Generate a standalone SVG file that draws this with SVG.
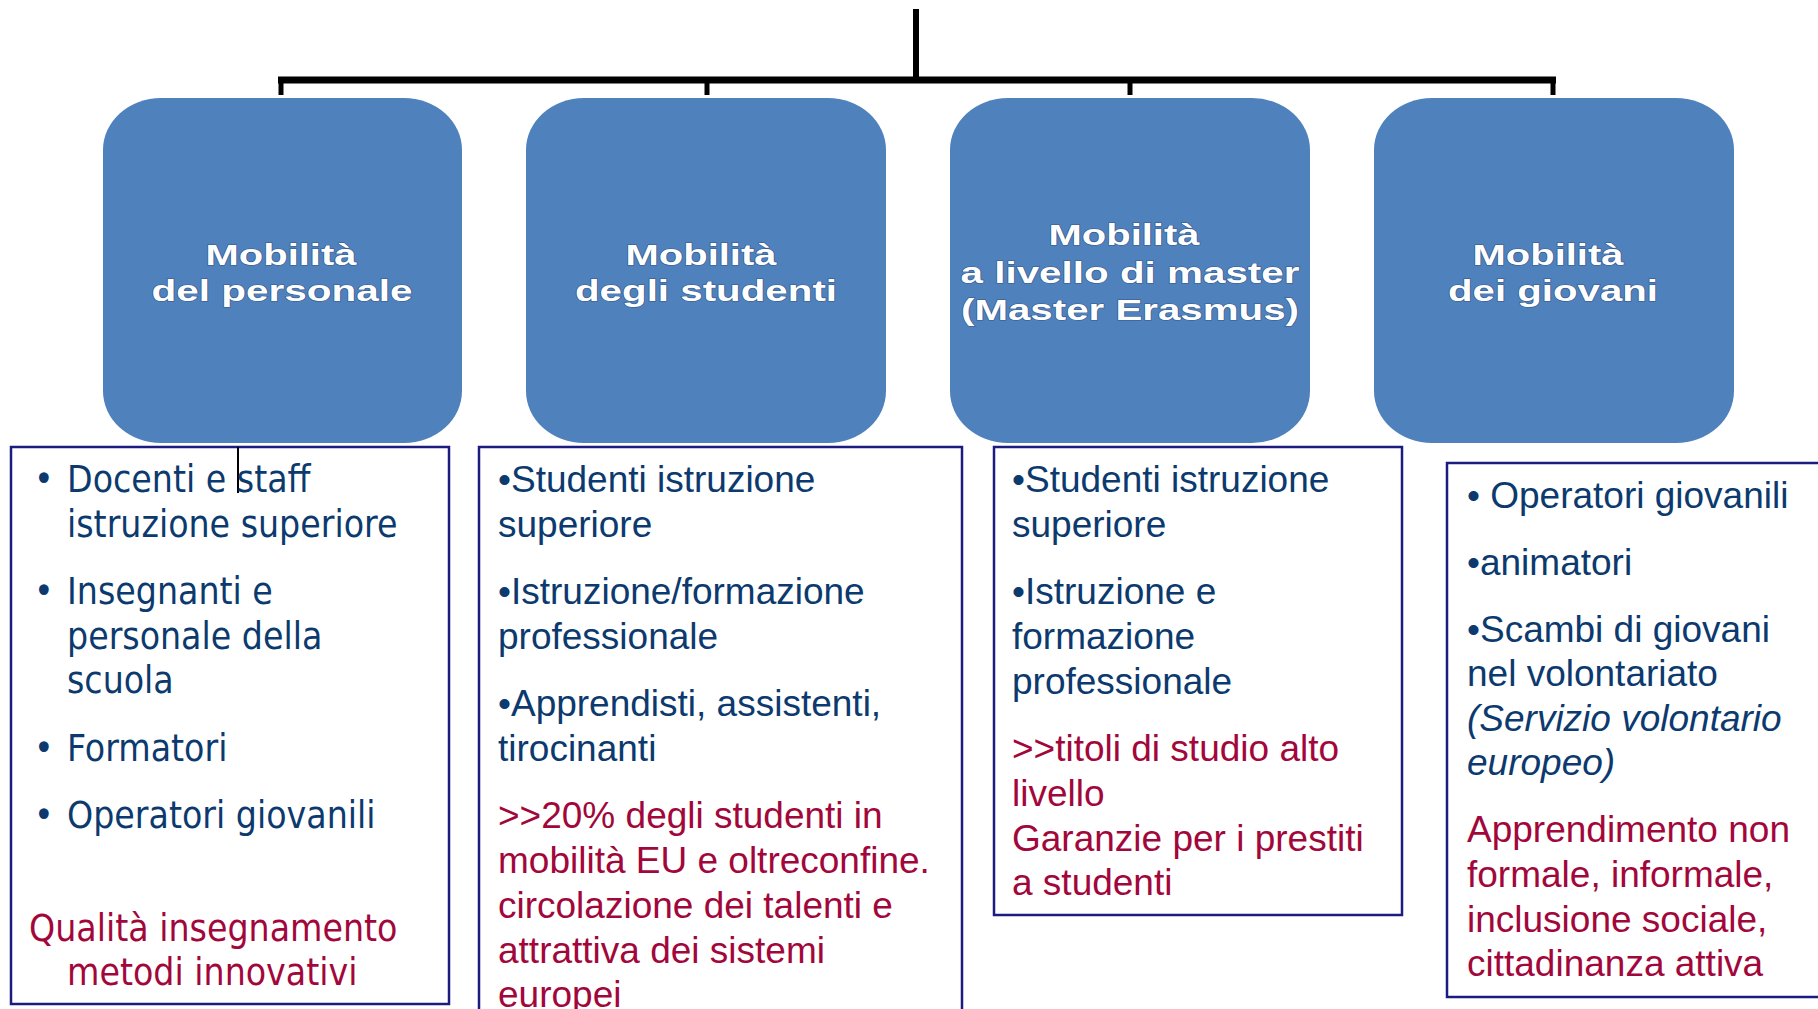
<svg xmlns="http://www.w3.org/2000/svg" width="1818" height="1009" viewBox="0 0 1818 1009">
<style>
.node rect.head{fill:#4F81BD;}
.title{font-family:"Liberation Sans",Arial,sans-serif;font-weight:bold;font-size:30px;fill:#ffffff;stroke:#34588a;stroke-width:1.2px;paint-order:stroke;text-anchor:middle;}
.frame{fill:#ffffff;stroke:#1c1c80;stroke-width:2.5;}
.ta{font-family:"DejaVu Sans Condensed","DejaVu Sans",sans-serif;font-stretch:condensed;font-size:37px;}
.tb{font-family:"Liberation Sans",Arial,sans-serif;font-size:37px;}
.navy{fill:#0C3A6E;}
.red{fill:#A2073C;}
.it{font-style:italic;}
.conn{stroke:#000000;fill:none;stroke-linecap:butt;}
</style>

<g id="connectors">
  <line class="conn" x1="916" y1="9" x2="916" y2="83" stroke-width="6"/>
  <line class="conn" x1="278" y1="80" x2="1556" y2="80" stroke-width="7"/>
  <line class="conn" x1="281" y1="80" x2="281" y2="95" stroke-width="5"/>
  <line class="conn" x1="707" y1="80" x2="707" y2="95" stroke-width="5"/>
  <line class="conn" x1="1130" y1="80" x2="1130" y2="95" stroke-width="5"/>
  <line class="conn" x1="1553" y1="80" x2="1553" y2="95" stroke-width="5"/>
</g>

<g id="node-personale" class="node">
  <rect class="head" x="103" y="98" width="359" height="345" rx="58" ry="52"/>
  <text class="title" x="281" y="265" textLength="151" lengthAdjust="spacingAndGlyphs">Mobilità</text>
  <text class="title" x="282" y="301" textLength="261" lengthAdjust="spacingAndGlyphs">del personale</text>
</g>

<g id="node-studenti" class="node">
  <rect class="head" x="526" y="98" width="360" height="345" rx="58" ry="52"/>
  <text class="title" x="701" y="265" textLength="151" lengthAdjust="spacingAndGlyphs">Mobilità</text>
  <text class="title" x="706" y="301" textLength="262" lengthAdjust="spacingAndGlyphs">degli studenti</text>
</g>

<g id="node-master" class="node">
  <rect class="head" x="950" y="98" width="360" height="345" rx="58" ry="52"/>
  <text class="title" x="1124" y="245" textLength="151" lengthAdjust="spacingAndGlyphs">Mobilità</text>
  <text class="title" x="1130" y="283" textLength="339" lengthAdjust="spacingAndGlyphs">a livello di master</text>
  <text class="title" x="1130" y="320" textLength="338" lengthAdjust="spacingAndGlyphs">(Master Erasmus)</text>
</g>

<g id="node-giovani" class="node">
  <rect class="head" x="1374" y="98" width="360" height="345" rx="58" ry="52"/>
  <text class="title" x="1548" y="265" textLength="151" lengthAdjust="spacingAndGlyphs">Mobilità</text>
  <text class="title" x="1553" y="301" textLength="210" lengthAdjust="spacingAndGlyphs">dei giovani</text>
</g>

<g id="list-personale">
  <rect class="frame" x="11" y="447" width="438" height="557"/>
  <line x1="238" y1="447" x2="238" y2="493" stroke="#000000" stroke-width="2"/>
  <g class="ta navy">
    <text x="34" y="492">•</text>
    <text x="67" y="492">Docenti e staff</text>
    <text x="67" y="537">istruzione superiore</text>
    <text x="34" y="604">•</text>
    <text x="67" y="604">Insegnanti e</text>
    <text x="67" y="649">personale della</text>
    <text x="67" y="693">scuola</text>
    <text x="34" y="761">•</text>
    <text x="67" y="761">Formatori</text>
    <text x="34" y="828">•</text>
    <text x="67" y="828">Operatori giovanili</text>
  </g>
  <g class="ta red">
    <text x="29" y="941">Qualità insegnamento</text>
    <text x="67" y="985">metodi innovativi</text>
  </g>
</g>

<g id="list-studenti">
  <rect class="frame" x="479" y="447" width="483" height="575"/>
  <g class="tb navy">
    <text x="498" y="492">•Studenti istruzione</text>
    <text x="498" y="537">superiore</text>
    <text x="498" y="604">•Istruzione/formazione</text>
    <text x="498" y="649">professionale</text>
    <text x="498" y="716">•Apprendisti, assistenti,</text>
    <text x="498" y="761">tirocinanti</text>
  </g>
  <g class="tb red">
    <text x="498" y="828">&gt;&gt;20% degli studenti in</text>
    <text x="498" y="873">mobilità EU e oltreconfine.</text>
    <text x="498" y="918">circolazione dei talenti e</text>
    <text x="498" y="963">attrattiva dei sistemi</text>
    <text x="498" y="1007">europei</text>
  </g>
</g>

<g id="list-master">
  <rect class="frame" x="994" y="447" width="408" height="468"/>
  <g class="tb navy">
    <text x="1012" y="492">•Studenti istruzione</text>
    <text x="1012" y="537">superiore</text>
    <text x="1012" y="604">•Istruzione e</text>
    <text x="1012" y="649">formazione</text>
    <text x="1012" y="694">professionale</text>
  </g>
  <g class="tb red">
    <text x="1012" y="761">&gt;&gt;titoli di studio alto</text>
    <text x="1012" y="806">livello</text>
    <text x="1012" y="851">Garanzie per i prestiti</text>
    <text x="1012" y="895">a studenti</text>
  </g>
</g>

<g id="list-giovani">
  <rect class="frame" x="1447" y="463" width="390" height="534"/>
  <g class="tb navy">
    <text x="1467" y="508">• Operatori giovanili</text>
    <text x="1467" y="575">•animatori</text>
    <text x="1467" y="642">•Scambi di giovani</text>
    <text x="1467" y="686">nel volontariato</text>
    <text x="1467" y="731" class="it">(Servizio volontario</text>
    <text x="1467" y="775" class="it">europeo)</text>
  </g>
  <g class="tb red">
    <text x="1467" y="842">Apprendimento non</text>
    <text x="1467" y="887">formale, informale,</text>
    <text x="1467" y="932">inclusione sociale,</text>
    <text x="1467" y="976">cittadinanza attiva</text>
  </g>
</g>
</svg>
